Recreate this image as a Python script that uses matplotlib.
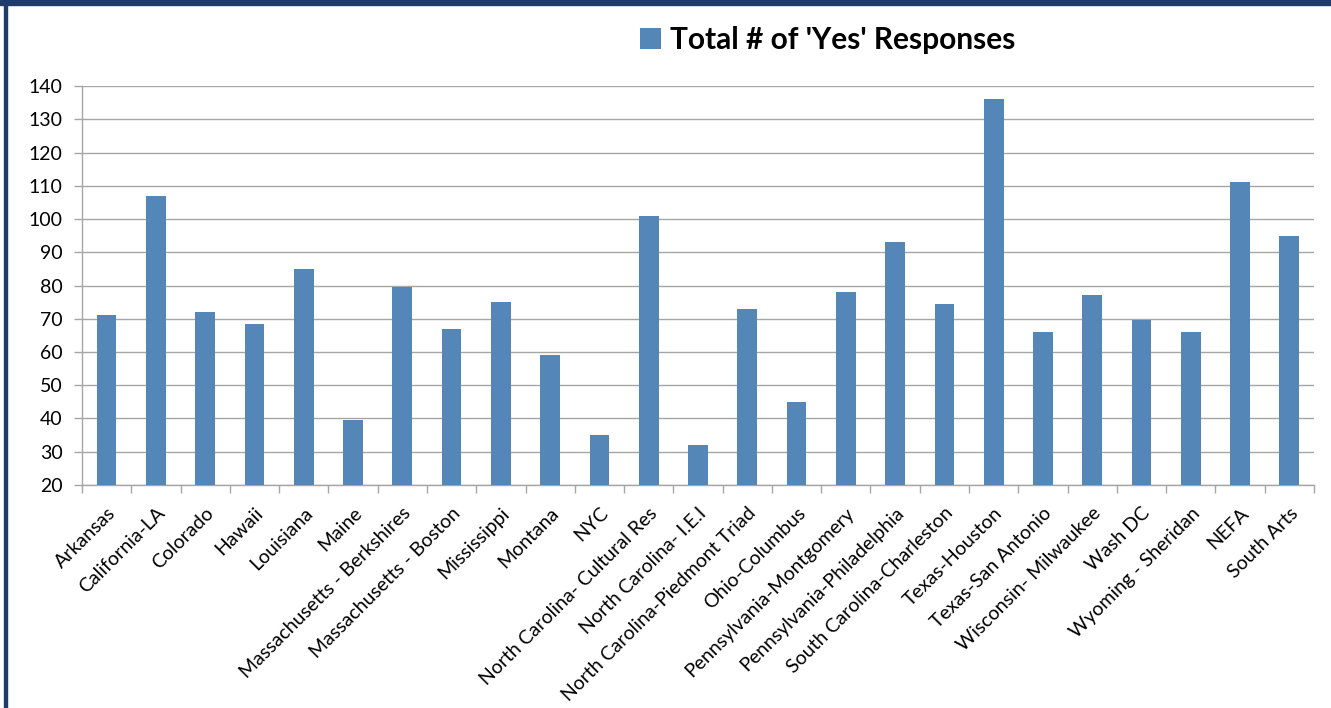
import matplotlib.pyplot as plt
from matplotlib.patches import Rectangle
import numpy as np

plt.rcParams['font.family'] = ['Lato', 'DejaVu Sans']

# sites surveyed and their count of 'yes' answers
sites = ["Arkansas", "California-LA", "Colorado", "Hawaii", "Louisiana", "Maine",
         "Massachusetts - Berkshires", "Massachusetts - Boston", "Mississippi",
         "Montana", "NYC", "North Carolina- Cultural Res", "North Carolina- I.E.I",
         "North Carolina-Piedmont Triad", "Ohio-Columbus", "Pennsylvania-Montgomery",
         "Pennsylvania-Philadelphia", "South Carolina-Charleston", "Texas-Houston",
         "Texas-San Antonio", "Wisconsin- Milwaukee", "Wash DC", "Wyoming - Sheridan",
         "NEFA", "South Arts"]
yes_totals = [71, 107, 72, 68.5, 85, 39.5, 79.5, 67, 75, 59, 35, 101, 32, 73, 45,
              78, 93, 74.5, 136, 66, 77, 69.5, 66, 111, 95]
series_name = "Total # of 'Yes' Responses"
y_ticks = list(range(20, 141, 10))

bar_color = '#5586B8'
grid_color = '#A6A6A6'
frame_color = '#1F3B6B'

fig = plt.figure(figsize=(13.31, 7.08), dpi=100)
ax = fig.add_axes([0.0616, 0.315, 0.9256, 0.5635])

x = np.arange(len(sites))
ax.bar(x, yes_totals, width=0.4, color=bar_color, label=series_name, zorder=3)

ax.set_xlim(-0.5, len(sites) - 0.5)
ax.set_ylim(y_ticks[0], y_ticks[-1])
ax.set_yticks(y_ticks)
ax.yaxis.grid(True, color=grid_color, linewidth=1.0, zorder=0)

# category labels on the centres, tick marks between categories
ax.set_xticks(x)
ax.set_xticklabels(sites, rotation=45, ha='right', rotation_mode='anchor', fontsize=14)
ax.set_xticks(np.arange(len(sites) + 1) - 0.5, minor=True)
ax.tick_params(axis='x', which='major', length=0, pad=14)
ax.tick_params(axis='x', which='minor', length=6, width=1.0, color=grid_color)
ax.tick_params(axis='y', length=6, width=1.0, color=grid_color, labelsize=14, pad=8)

for side in ['top', 'right']:
    ax.spines[side].set_visible(False)
for side in ['left', 'bottom']:
    ax.spines[side].set_color(grid_color)
    ax.spines[side].set_linewidth(1.0)

fig.legend(loc='center', bbox_to_anchor=(0.622, 0.943), frameon=False,
           prop={'weight': 'bold', 'size': 21.5}, handlelength=0.7, handleheight=0.7,
           handletextpad=0.3)

# dark frame along the top and left edge
fig.patches.append(Rectangle((0, 1 - 5 / 708), 1, 5 / 708, transform=fig.transFigure,
                             color=frame_color, zorder=10))
fig.patches.append(Rectangle((4 / 1331, 0), 3 / 1331, 1, transform=fig.transFigure,
                             color=frame_color, zorder=10))

fig.savefig('out.png', dpi=100)
